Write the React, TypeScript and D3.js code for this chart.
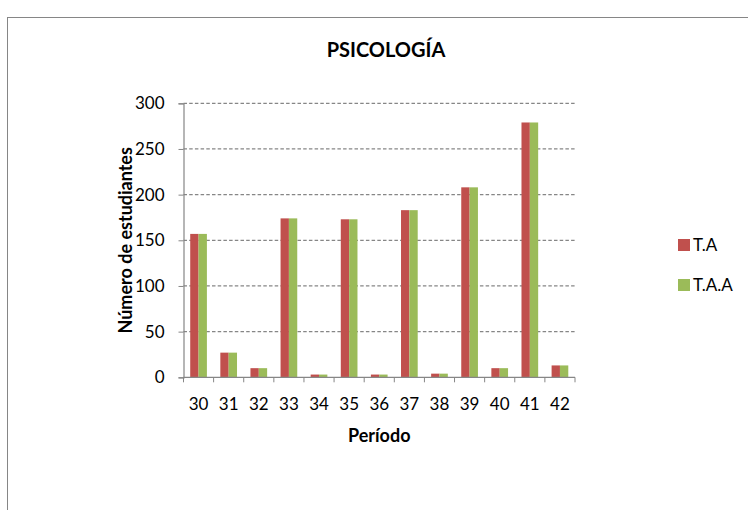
import React from "react";
import * as d3 from "d3";

const periods = ["30", "31", "32", "33", "34", "35", "36", "37", "38", "39", "40", "41", "42"];
const taValues = [157, 27, 10, 174, 3, 173, 3, 183, 4, 208, 10, 279, 13];
const taaValues = [157, 27, 10, 174, 3, 173, 3, 183, 4, 208, 10, 279, 13];
const seriesNames = ["T.A", "T.A.A"];
const yTicks = [0, 50, 100, 150, 200, 250, 300];

const colors = ["#C0504D", "#9BBB59"];
const font = "Lato, 'Open Sans', sans-serif";

const Chart: React.FC = () => {
  const svgRef = React.useRef<SVGSVGElement | null>(null);

  React.useEffect(() => {
    if (!svgRef.current) return;
    const svg = d3.select(svgRef.current);
    svg.selectAll("*").remove();

    const width = 748;
    const height = 510;
    const left = 183.5;
    const right = 575;
    const top = 103.3;
    const bottom = 377.3;

    svg.attr("width", width).attr("height", height);

    // outer frame
    svg
      .append("rect")
      .attr("x", 7.5)
      .attr("y", 17.5)
      .attr("width", 800)
      .attr("height", 600)
      .attr("fill", "white")
      .attr("stroke", "#868686")
      .attr("stroke-width", 1);

    const x = d3.scaleBand().domain(periods).range([left, right]).paddingInner(0).paddingOuter(0);
    const y = d3.scaleLinear().domain([0, 300]).range([bottom, top]);

    // gridlines
    svg
      .append("g")
      .selectAll("line")
      .data(yTicks.filter((d) => d > 0))
      .join("line")
      .attr("x1", left)
      .attr("x2", right)
      .attr("y1", (d) => y(d))
      .attr("y2", (d) => y(d))
      .attr("stroke", "#868686")
      .attr("stroke-width", 1.2)
      .attr("stroke-dasharray", "3.5,2.2");

    // bars
    const barW = x.bandwidth() * 0.277;
    const series = [taValues, taaValues];
    series.forEach((vals, si) => {
      svg
        .append("g")
        .selectAll("rect")
        .data(vals)
        .join("rect")
        .attr("x", (d, i) => (x(periods[i]) as number) + x.bandwidth() / 2 - barW + si * barW)
        .attr("y", (d) => y(d))
        .attr("width", barW)
        .attr("height", (d) => bottom - y(d))
        .attr("fill", colors[si]);
    });

    // y axis
    const yAxis = svg
      .append("g")
      .attr("transform", `translate(${left},0)`)
      .call(d3.axisLeft(y).tickValues(yTicks).tickSize(5).tickPadding(14).tickFormat((d) => `${d}`));
    yAxis.select(".domain").attr("stroke", "#868686").attr("stroke-width", 1.2);
    yAxis.selectAll(".tick line").attr("stroke", "#868686");
    yAxis
      .selectAll(".tick text")
      .attr("font-family", font)
      .attr("font-size", 17)
      .attr("fill", "#000");

    // x axis
    const xAxisG = svg.append("g").attr("transform", `translate(0,${bottom})`);
    xAxisG
      .append("line")
      .attr("x1", left)
      .attr("x2", right)
      .attr("y1", 0)
      .attr("y2", 0)
      .attr("stroke", "#868686")
      .attr("stroke-width", 1.2);
    const boundaries = periods.map((p) => x(p) as number).concat([right]);
    xAxisG
      .selectAll("line.tk")
      .data(boundaries)
      .join("line")
      .attr("class", "tk")
      .attr("x1", (d) => d)
      .attr("x2", (d) => d)
      .attr("y1", 0)
      .attr("y2", 5)
      .attr("stroke", "#868686");
    xAxisG
      .selectAll("text")
      .data(periods)
      .join("text")
      .attr("x", (d) => (x(d) as number) + x.bandwidth() / 2)
      .attr("y", 33)
      .attr("text-anchor", "middle")
      .attr("font-family", font)
      .attr("font-size", 17)
      .text((d) => d);

    // titles
    svg
      .append("text")
      .attr("x", 386)
      .attr("y", 57)
      .attr("text-anchor", "middle")
      .attr("font-family", font)
      .attr("font-weight", "bold")
      .attr("font-size", 20)
      .text("PSICOLOGÍA");

    svg
      .append("text")
      .attr("x", (left + right) / 2)
      .attr("y", 442)
      .attr("text-anchor", "middle")
      .attr("font-family", font)
      .attr("font-weight", "bold")
      .attr("font-size", 18)
      .text("Período");

    svg
      .append("text")
      .attr("transform", `translate(132,${(top + bottom) / 2}) rotate(-90)`)
      .attr("text-anchor", "middle")
      .attr("font-family", font)
      .attr("font-weight", "bold")
      .attr("font-size", 18)
      .text("Número de estudiantes");

    // legend
    const legend = svg
      .append("g")
      .selectAll("g")
      .data(seriesNames)
      .join("g")
      .attr("transform", (d, i) => `translate(678,${239 + i * 40})`);
    legend
      .append("rect")
      .attr("width", 12)
      .attr("height", 12)
      .attr("fill", (d, i) => colors[i]);
    legend
      .append("text")
      .attr("x", 15)
      .attr("y", 12)
      .attr("font-family", font)
      .attr("font-size", 17)
      .text((d) => d);
  }, []);

  return <svg ref={svgRef} style={{ position: "absolute", left: 0, top: 0, display: "block" }}></svg>;
};

export default function App() {
  return <Chart />;
}
